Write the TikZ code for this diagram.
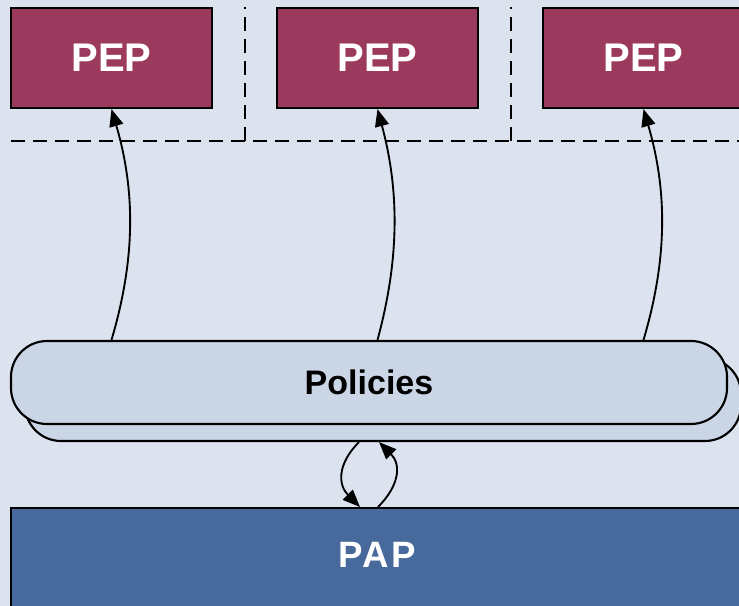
\documentclass[tikz,border=0pt]{standalone}
\usepackage{fontspec}
\setmainfont{Liberation Sans}
\usetikzlibrary{arrows.meta,calc}

\definecolor{canvas}{HTML}{DCE2EE}
\definecolor{pepfill}{HTML}{9C3A5E}
\definecolor{polfill}{HTML}{CAD6E6}
\definecolor{papfill}{HTML}{48699C}

\begin{document}
\begin{tikzpicture}[x=0.75pt,y=-0.75pt,
  pepbox/.style={draw=black, line width=1.6pt, fill=pepfill, rectangle,
    minimum width=150.75pt, minimum height=75pt, inner sep=0pt,
    text=white, font=\fontsize{30}{30}\selectfont\bfseries},
  polshape/.style={draw=black, line width=1.6pt, fill=polfill, rectangle,
    rounded corners=27pt, minimum width=537pt, minimum height=62.25pt, inner sep=0pt,
    font=\fontsize{25.5}{26}\selectfont\bfseries},
  papbox/.style={draw=black, line width=1.8pt, fill=papfill, rectangle,
    minimum width=549pt, minimum height=82pt, inner sep=0pt},
  paptext/.style={text=white, inner sep=0pt,
    font=\fontsize{27.5}{28}\selectfont\bfseries\addfontfeatures{LetterSpace=6}},
  divider/.style={draw=black, line width=1.5pt, dash pattern=on 10.5pt off 6pt},
  conn/.style={draw=black, line width=1.4pt, -{Triangle[length=13pt,width=10.5pt]}}]

% canvas
\fill[canvas] (0,0) rectangle (739,606);
\useasboundingbox (0,0) rectangle (739,606);
\clip (0,0) rectangle (739,606);

% enforcement points
\node[pepbox] (pep1) at (111.5,58) {PEP};
\node[pepbox] (pep2) at (377.5,58) {PEP};
\node[pepbox] (pep3) at (643.5,58) {PEP};

% zone dividers
\coordinate (dl) at (11,141);
\coordinate (dr) at (739,141);
\coordinate (v1b) at (245,141);
\coordinate (v1t) at (245,7);
\coordinate (v2b) at (511,141);
\coordinate (v2t) at (511,7);
\draw[divider] (dl) -- (dr);
\draw[divider] (v1b) -- (v1t);
\draw[divider] (v2b) -- (v2t);

% policy store (stacked)
\node[polshape] (polback) at (383,399.5) {};
\node[polshape] (pol) at (369,382.5) {Policies};

% administration point
\node[papbox, anchor=north] (pap) at (377,507) {};
\node[paptext] (paplabel) at ($(pap.north)+(0,48)$) {PAP};

% distribution to the enforcement points
\draw[conn] (pep1.south |- pol.north) .. controls +(24,-81) and +(24,82) .. (pep1.south);
\draw[conn] (pep2.south |- pol.north) .. controls +(22,-81) and +(22,82) .. (pep2.south);
\draw[conn] (pep3.south |- pol.north) .. controls +(24,-81) and +(24,82) .. (pep3.south);

% exchange between policies and PAP
\draw[conn] ($(polback.south)+(-24,0)$) .. controls +(-22,22) and +(-22,-22) .. ($(pap.north)+(-17,0)$);
\draw[conn] ($(pap.north)+(1,0)$) .. controls +(22,-22) and +(22,22) .. ($(polback.south)+(-4,0)$);
\end{tikzpicture}
\end{document}
